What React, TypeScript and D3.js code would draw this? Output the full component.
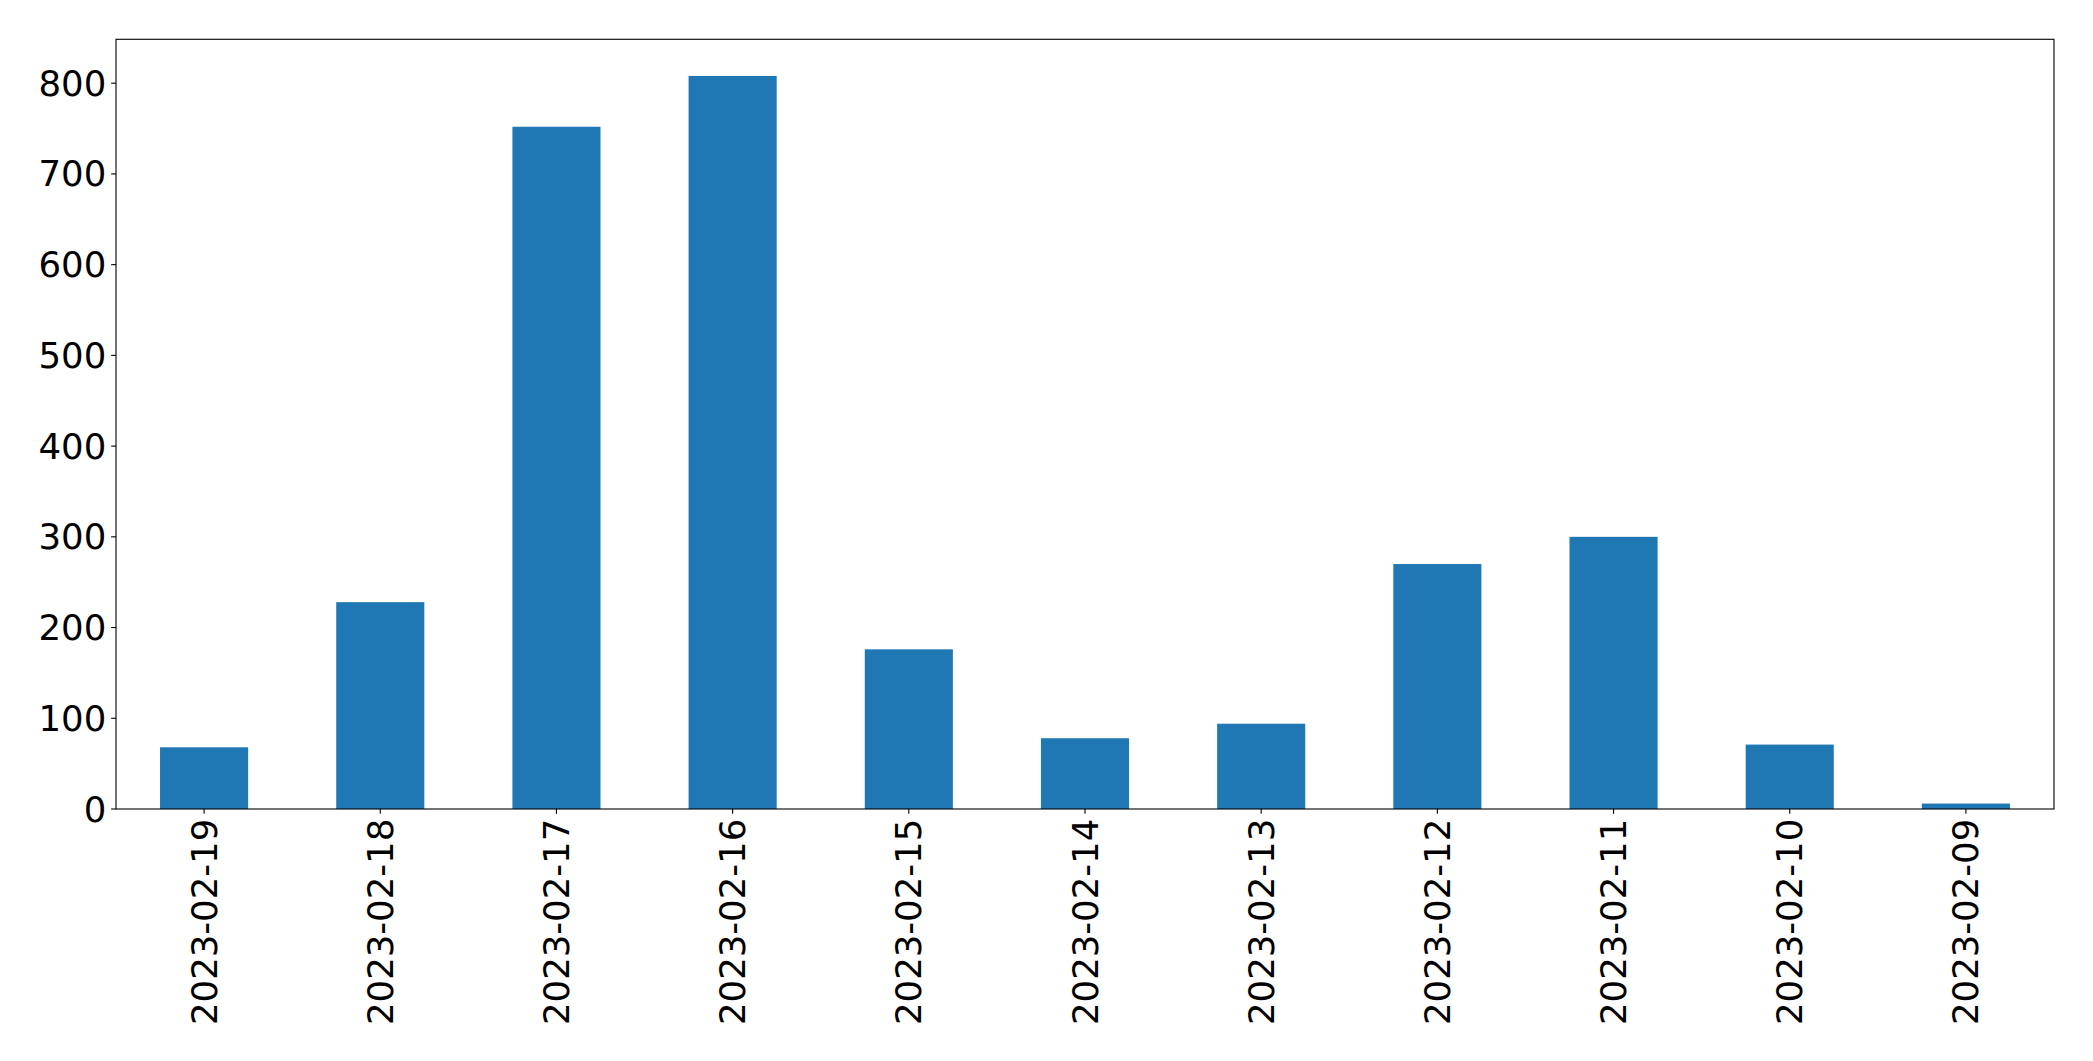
import React from "react";
import * as d3 from "d3";

const categories: string[] = [
  "2023-02-19",
  "2023-02-18",
  "2023-02-17",
  "2023-02-16",
  "2023-02-15",
  "2023-02-14",
  "2023-02-13",
  "2023-02-12",
  "2023-02-11",
  "2023-02-10",
  "2023-02-09",
];
const values: number[] = [68, 228, 752, 808, 176, 78, 94, 270, 300, 71, 6];
const yTicks: number[] = [0, 100, 200, 300, 400, 500, 600, 700, 800];

const W = 2093;
const H = 1061;
const M = { left: 116, right: 2054, top: 39.3, bottom: 809 };
const FONT = "DejaVu Sans, sans-serif";
const FS = 35.5;
const TICK = 4.86;
const PAD = 4.86;

export default function App() {
  const x = d3
    .scaleLinear()
    .domain([-0.5, categories.length - 0.5])
    .range([M.left, M.right]);
  const yMax = (d3.max(values) as number) * 1.05;
  const y = d3.scaleLinear().domain([0, yMax]).range([M.bottom, M.top]);
  const bw = x(0.25) - x(-0.25);

  return (
    <svg
      width={W}
      height={H}
      style={{ position: "absolute", left: 0, top: 0, background: "#fff" }}
      fontFamily={FONT}
    >
      <rect x={0} y={0} width={W} height={H} fill="#fff" />
      {values.map((v, i) => (
        <rect
          key={categories[i]}
          x={x(i) - bw / 2}
          y={y(v)}
          width={bw}
          height={y(0) - y(v)}
          fill="#1f77b4"
        />
      ))}
      <rect
        x={M.left}
        y={M.top}
        width={M.right - M.left}
        height={M.bottom - M.top}
        fill="none"
        stroke="#000"
        strokeWidth={1.1}
      />
      {yTicks.map((t) => (
        <g key={t}>
          <line
            x1={M.left - TICK}
            x2={M.left}
            y1={y(t)}
            y2={y(t)}
            stroke="#000"
            strokeWidth={1.1}
          />
          <text
            x={M.left - TICK - PAD}
            y={y(t)}
            textAnchor="end"
            dominantBaseline="central"
            fontSize={FS}
            fill="#000"
          >
            {t}
          </text>
        </g>
      ))}
      {categories.map((c, i) => (
        <g key={c}>
          <line
            x1={x(i)}
            x2={x(i)}
            y1={M.bottom}
            y2={M.bottom + TICK}
            stroke="#000"
            strokeWidth={1.1}
          />
          <text
            transform={`translate(${x(i)},${M.bottom + TICK + PAD}) rotate(-90)`}
            textAnchor="end"
            dominantBaseline="central"
            fontSize={FS}
            fill="#000"
          >
            {c}
          </text>
        </g>
      ))}
    </svg>
  );
}
